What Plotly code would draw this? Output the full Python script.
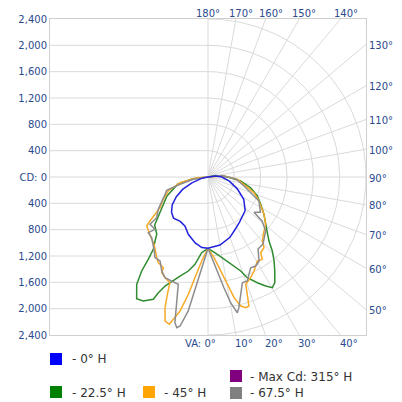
import numpy as np
import plotly.graph_objects as go

# ---------------- data: vertical angle (deg) -> candela ----------------
# right half = H plane, left half = H + 180 plane
va_0h_right = [0, 10, 20, 27.5, 35, 42, 48, 58, 68, 79, 90, 97, 105]
cd_0h_right = [1083, 1050, 975, 895, 835, 790, 760, 640, 480, 330, 210, 120, 0]
va_0h_left = [0, 5, 11, 19, 25, 32, 40, 46, 52, 58, 64, 70, 78, 90]
cd_0h_left = [1083, 1075, 1020, 920, 825, 795, 815, 770, 690, 570, 430, 260, 100, 0]

va_22h_right = [0, 6.9, 11, 16.3, 19.2, 21.3, 25, 27.9, 30.2, 32.3, 35.4, 38.2, 41, 43.6,
                47.7, 50.7, 56.3, 62.6, 69, 75.9, 83, 90, 100, 110]
cd_22h_right = [1083, 1183, 1274, 1408, 1512, 1642, 1772, 1873, 1944, 1899, 1751, 1623, 1489, 1343,
                1218, 1133, 1022, 902, 802, 668, 500, 300, 120, 0]
va_22h_left = [0, 4.8, 8.5, 11.8, 15.8, 19.2, 21.5, 23.2, 24.1, 27.6, 30.4, 33.6, 35.2, 36,
               37.1, 39.6, 41.8, 48, 54, 65, 77, 83, 90]
cd_22h_left = [1083, 1154, 1341, 1459, 1563, 1674, 1780, 1913, 2035, 2125, 2142, 1957, 1747, 1545,
               1377, 1262, 1168, 1090, 900, 690, 470, 230, 0]

va_45h_right = [0, 4.3, 7.7, 10.2, 12.2, 14.2, 16.1, 17.6, 18.5, 19.4, 23, 26.1, 30.4, 33.4,
                34.8, 38.4, 40.3, 46, 50.7, 56.3, 64.8, 71.2, 78.5, 85.5, 93.6, 100]
cd_45h_right = [1083, 1229, 1441, 1656, 1876, 2022, 2066, 2056, 1879, 1727, 1661, 1590, 1479, 1498,
                1401, 1370, 1275, 1182, 1133, 1022, 856, 738, 558, 447, 243, 0]
va_45h_left = [0, 4.3, 7.4, 9.5, 11.8, 13.7, 14.7, 16.6, 18.2, 19.1, 19.8, 23.1, 25.8, 26.2,
               30.1, 32.4, 35.6, 38.7, 42.1, 45.3, 51.4, 52.8, 54.9, 57.4, 63.5, 70.6, 78.5, 86.5, 90]
cd_45h_left = [1083, 1279, 1542, 1806, 2080, 2225, 2313, 2283, 2090, 1886, 1706, 1663, 1615, 1536,
               1505, 1452, 1382, 1311, 1276, 1238, 1192, 1106, 984, 866, 759, 639, 434, 172, 0]

va_67h_right = [0, 3.1, 5.7, 8.2, 10.2, 12.2, 13.3, 15.6, 18, 20.7, 25.2, 28.2, 31.3, 34.8,
                39.4, 46.9, 50.8, 52.5, 56, 64.8, 76, 86, 96, 105]
cd_67h_right = [1083, 1227, 1435, 1699, 1940, 2109, 2040, 1850, 1688, 1689, 1523, 1534, 1493, 1332,
                1317, 1200, 1058, 880, 960, 856, 564, 426, 214, 0]
va_67h_left = [0, 2.1, 4.7, 6.5, 8.4, 10.6, 11.7, 12.8, 13.8, 15.5, 19.2, 23.1, 26.2, 29.7,
               33.3, 36.8, 42.8, 47, 45.4, 50.8, 51.6, 57, 68.1, 72.1, 75.4, 81.1, 90]
cd_67h_left = [1083, 1227, 1483, 1743, 2057, 2303, 2338, 2269, 1991, 1691, 1674, 1663, 1592, 1469,
               1466, 1370, 1258, 1240, 1132, 1136, 995, 901, 703, 660, 439, 226, 0]

legend_labels = ["- 0° H", "- Max Cd: 315° H", "- 22.5° H", "- 45° H", "- 67.5° H"]

cd_max = 2400
cd_tick_values = [-2400, -2000, -1600, -1200, -800, -400, 0, 400, 800, 1200, 1600, 2000, 2400]
cd_tick_labels = ["2,400", "2,000", "1,600", "1,200", "800", "400", "CD: 0",
                  "400", "800", "1,200", "1,600", "2,000", "2,400"]
ring_values = [400, 800, 1200, 1600, 2000, 2400]
spoke_values = list(range(0, 181, 10))
va_top_labels = [180, 170, 160, 150, 140]
va_right_labels = [130, 120, 110, 100, 90, 80, 70, 60, 50]
va_bottom_labels = [0, 10, 20, 30, 40]

# ---------------- styles ----------------
GRID = "#dadada"
BORDER = "#cfcfcf"
TICK_COLOR = "#2b4a8e"
TEXT_COLOR = "#333333"
FONT = "DejaVu Sans"
W, H = 402, 402
PAGE_OFFSET = 8          # browser body margin
ML, MT = 42, 11
PW, PH = 316, 316
MR, MB = W - ML - PW, H - MT - PH


def px_to_paper(px, py):
    fx, fy = px - PAGE_OFFSET, py - PAGE_OFFSET
    return (fx - ML) / PW, (MT + PH - fy) / PH


def polar_xy(va_r, cd_r, va_l, cd_l):
    vr = np.radians(np.array(va_r[::-1], dtype=float))
    cr = np.array(cd_r[::-1], dtype=float)
    vl = np.radians(np.array(va_l, dtype=float))
    cl = np.array(cd_l, dtype=float)
    x = np.concatenate([cr * np.sin(vr), -cl * np.sin(vl)])
    y = np.concatenate([-cr * np.cos(vr), -cl * np.cos(vl)])
    return x, y


fig = go.Figure()

# rings (right half only)
th = np.radians(np.linspace(0, 180, 181))
for r in ring_values:
    fig.add_trace(go.Scatter(x=r * np.sin(th), y=-r * np.cos(th), mode="lines",
                             line=dict(color=GRID, width=1), hoverinfo="skip"))

shapes = []
# horizontal grid on the left half
for v in cd_tick_values[1:-1]:
    shapes.append(dict(type="line", xref="x", yref="y", x0=-cd_max, x1=0, y0=v, y1=v,
                       line=dict(color=GRID, width=1), layer="below"))
# spokes
for a in spoke_values:
    s, c = np.sin(np.radians(a)), np.cos(np.radians(a))
    ts = []
    if abs(s) > 1e-9:
        ts.append(cd_max / abs(s))
    if abs(c) > 1e-9:
        ts.append(cd_max / abs(c))
    t = min(ts)
    shapes.append(dict(type="line", xref="x", yref="y", x0=0, y0=0, x1=t * s, y1=-t * c,
                       line=dict(color=GRID, width=1), layer="below"))

# curves
series = [
    (va_22h_right, cd_22h_right, va_22h_left, cd_22h_left, "#2e8b2e"),
    (va_45h_right, cd_45h_right, va_45h_left, cd_45h_left, "#f7a928"),
    (va_67h_right, cd_67h_right, va_67h_left, cd_67h_left, "#8c8c8c"),
    (va_0h_right, cd_0h_right, va_0h_left, cd_0h_left, "#2222dd"),
]
for vr, cr, vl, cl, col in series:
    x, y = polar_xy(vr, cr, vl, cl)
    fig.add_trace(go.Scatter(x=x, y=y, mode="lines", line=dict(color=col, width=1.5),
                             hoverinfo="skip"))

annotations = []
lab_font = dict(family=FONT, size=10, color=TICK_COLOR)
for a in va_top_labels:
    x = -cd_max * np.tan(np.radians(a))
    annotations.append(dict(x=x, y=cd_max, xref="x", yref="y", text=f"{a}°", showarrow=False,
                            xanchor="center", yanchor="bottom", xshift=0 if a == 180 else 5,
                            yshift=-2, font=lab_font))
for a in va_right_labels:
    y = -cd_max * np.cos(np.radians(a)) / np.sin(np.radians(a))
    annotations.append(dict(x=cd_max, y=y, xref="x", yref="y", text=f"{a}°", showarrow=False,
                            xanchor="left", yanchor="middle", xshift=1, yshift=-1, font=lab_font))
for a in va_bottom_labels:
    x = cd_max * np.tan(np.radians(a))
    if a == 0:
        annotations.append(dict(x=x, y=-cd_max, xref="x", yref="y", text=f"VA: {a}°",
                                showarrow=False, xanchor="right", yanchor="top", xshift=10,
                                yshift=-1, font=lab_font))
    else:
        annotations.append(dict(x=x, y=-cd_max, xref="x", yref="y", text=f"{a}°",
                                showarrow=False, xanchor="left", yanchor="top", xshift=-3,
                                yshift=-1, font=lab_font))

# legend (custom layout, positions in screenshot pixels)
legend_items = [
    (legend_labels[0], "#0000ff", 50, 353, 70, 359),
    (legend_labels[1], "#800080", 230, 370, 248, 377),
    (legend_labels[2], "#008000", 50, 386, 70, 393),
    (legend_labels[3], "#ffa500", 143, 386, 162, 393),
    (legend_labels[4], "#808080", 230, 387, 248, 393),
]
for text, col, sx, sy, tx, ty in legend_items:
    x0, y0 = px_to_paper(sx, sy)
    x1, y1 = px_to_paper(sx + 12, sy + 12)
    shapes.append(dict(type="rect", xref="paper", yref="paper", x0=x0, x1=x1, y0=y1, y1=y0,
                       fillcolor=col, line=dict(width=0)))
    ax, ay = px_to_paper(tx, ty)
    annotations.append(dict(x=ax, y=ay, xref="paper", yref="paper", text=text, showarrow=False,
                            xanchor="left", yanchor="middle",
                            font=dict(family=FONT, size=12, color=TEXT_COLOR)))

fig.update_layout(
    width=W, height=H,
    margin=dict(l=ML, r=MR, t=MT, b=MB, autoexpand=False),
    plot_bgcolor="white", paper_bgcolor="white",
    showlegend=False,
    shapes=shapes,
    annotations=annotations,
    xaxis=dict(range=[-cd_max, cd_max], showgrid=False, zeroline=False, showticklabels=False,
               ticks="", showline=True, mirror=True, linecolor=BORDER, linewidth=1,
               fixedrange=True),
    yaxis=dict(range=[-cd_max, cd_max], tickvals=cd_tick_values, ticktext=cd_tick_labels,
               showgrid=False, zeroline=False, ticks="", showline=True, mirror=True,
               linecolor=BORDER, linewidth=1, tickfont=dict(family=FONT, size=10, color=TICK_COLOR),
               fixedrange=True, automargin=False),
)

fig.write_html("out.html")
